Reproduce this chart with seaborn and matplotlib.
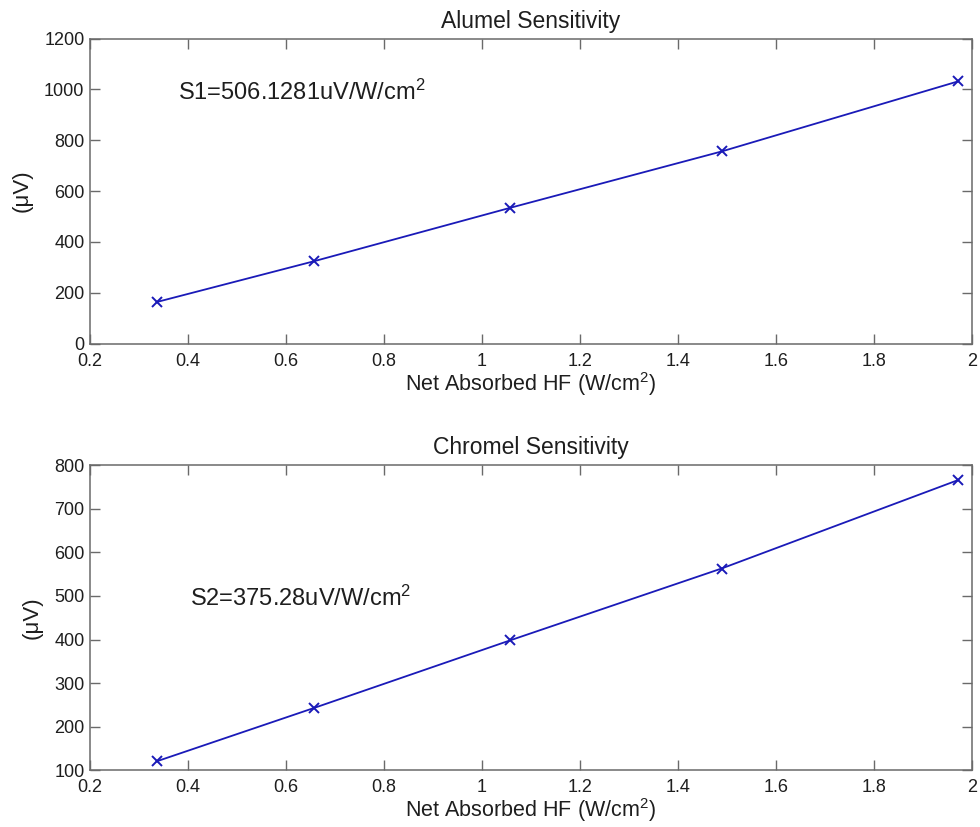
import matplotlib
matplotlib.use("Agg")
import matplotlib.pyplot as plt
import seaborn as sns
import pandas as pd

# Net absorbed heat flux (W/cm^2) and thermocouple output (uV)
heat_flux = [0.337, 0.657, 1.057, 1.489, 1.972]
alumel_uv = [164, 324, 534, 756, 1032]
chromel_uv = [121, 243, 398, 563, 766]

x_ticks = [0.2, 0.4, 0.6, 0.8, 1.0, 1.2, 1.4, 1.6, 1.8, 2.0]
x_tick_labels = ["0.2", "0.4", "0.6", "0.8", "1", "1.2", "1.4", "1.6", "1.8", "2"]
alumel_ticks = [0, 200, 400, 600, 800, 1000, 1200]
chromel_ticks = [100, 200, 300, 400, 500, 600, 700, 800]

titles = ["Alumel Sensitivity", "Chromel Sensitivity"]
notes = ["S1=506.1281uV/W/cm$^2$", "S2=375.28uV/W/cm$^2$"]

sns.set_theme(style="white")
plt.rcParams["font.family"] = ["Liberation Sans", "DejaVu Sans"]
plt.rcParams["mathtext.fontset"] = "custom"
plt.rcParams["mathtext.rm"] = "Liberation Sans"
plt.rcParams["mathtext.it"] = "Liberation Sans"
plt.rcParams["mathtext.default"] = "rm"

fig = plt.figure(figsize=(9.8, 8.27), dpi=100)
ax_top = fig.add_axes([0.0918, 0.5845, 0.9, 0.3688])
ax_bot = fig.add_axes([0.0918, 0.0685, 0.9, 0.3690])

line_color = "#1a1ab8"
spine_color = "#6a6a6a"
text_color = "#1e1e1e"

panels = [
    (ax_top, alumel_uv, alumel_ticks, (0, 1200), (0.38, 990)),
    (ax_bot, chromel_uv, chromel_ticks, (100, 800), (0.404, 494)),
]

for i, (ax, values, yt, ylim, note_pos) in enumerate(panels):
    df = pd.DataFrame({"hf": heat_flux, "uv": values})
    sns.lineplot(data=df, x="hf", y="uv", ax=ax, color=line_color,
                 linewidth=1.3, marker="x", markersize=7,
                 markeredgewidth=1.4, markeredgecolor=line_color)
    ax.set_xlim(0.2, 2.0)
    ax.set_ylim(*ylim)
    ax.set_xticks(x_ticks)
    ax.set_xticklabels(x_tick_labels)
    ax.set_yticks(yt)
    ax.set_yticklabels([str(v) for v in yt])
    ax.tick_params(direction="in", length=7, width=1, color=spine_color,
                   labelsize=13, labelcolor=text_color,
                   top=True, right=True, bottom=True, left=True)
    ax.tick_params(axis="x", pad=6.5)
    ax.tick_params(axis="y", pad=4)
    for s in ax.spines.values():
        s.set_color(spine_color)
        s.set_linewidth(1.1)
    ax.set_title(titles[i], fontsize=16.5, color=text_color, pad=8)
    ax.set_xlabel("Net Absorbed HF (W/cm$^2$)", fontsize=15.5,
                  color=text_color, labelpad=0)
    ax.set_ylabel("(\u03bcV)", fontsize=16, color=text_color, labelpad=8)
    ax.text(note_pos[0], note_pos[1], notes[i], fontsize=17,
            color=text_color, ha="left", va="center")

fig.savefig("out.png", dpi=100, facecolor="white")
